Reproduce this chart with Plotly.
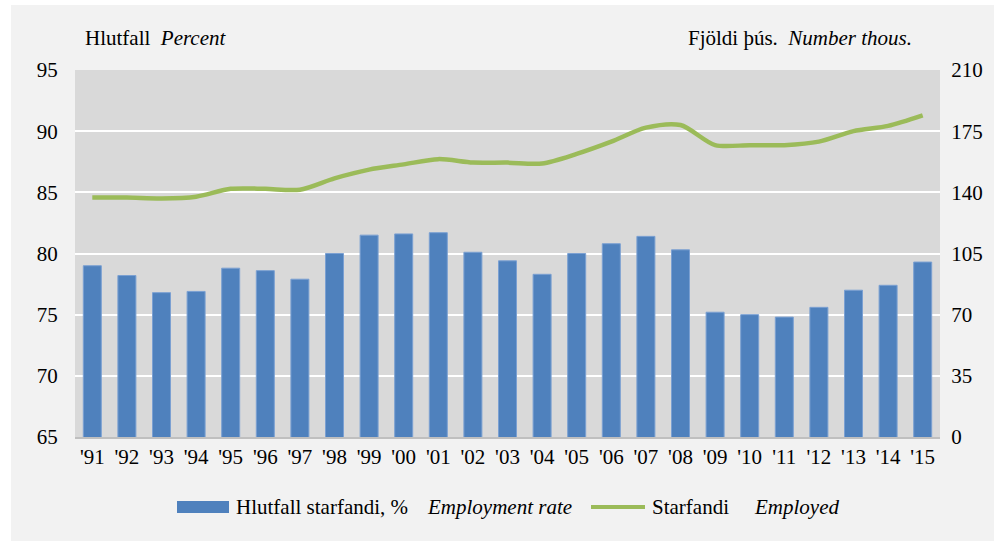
import plotly.graph_objects as go

years = ["'91", "'92", "'93", "'94", "'95", "'96", "'97", "'98", "'99", "'00", "'01", "'02", "'03",
         "'04", "'05", "'06", "'07", "'08", "'09", "'10", "'11", "'12", "'13", "'14", "'15"]
employment_rate = [79.0, 78.2, 76.8, 76.9, 78.8, 78.6, 77.9, 80.0, 81.5, 81.6, 81.7, 80.1, 79.4,
                   78.3, 80.0, 80.8, 81.4, 80.3, 75.2, 75.0, 74.8, 75.6, 77.0, 77.4, 79.3]
employed = [137, 137, 136.5, 137.5, 142, 142, 141.5, 148, 153, 156, 159, 157, 157,
            156.5, 162, 169, 177, 178.5, 167, 167, 167, 169, 175, 178, 184]

FONT = "Liberation Serif"
FS = 21
L, R, T, B = 75, 66, 70, 106
W, H = 1006, 543
PW, PH = W - L - R, H - T - B

def px(x):
    return (x - L) / PW

def py(y):
    return (H - B - y) / PH

fig = go.Figure()
fig.add_trace(go.Bar(
    x=years, y=employment_rate, name="Hlutfall starfandi, %",
    marker=dict(color="#4f81bd", line=dict(color="#7ba0d2", width=1)),
    showlegend=False, yaxis="y"))
fig.add_trace(go.Scatter(
    x=years, y=employed, name="Starfandi", mode="lines",
    line=dict(color="#9bbb59", width=4.5, shape="spline", smoothing=0.8),
    showlegend=False, yaxis="y2"))

shapes = []
# white outer margins
for (x0, x1, y0, y1) in [(0, 11, 0, H), (994, W, 0, H), (0, W, 0, 5), (0, W, 541, H)]:
    shapes.append(dict(type="rect", xref="paper", yref="paper", x0=px(x0), x1=px(x1),
                       y0=py(y1), y1=py(y0), fillcolor="white", line=dict(width=0), layer="above"))
# legend symbols
shapes.append(dict(type="rect", xref="paper", yref="paper", x0=px(177), x1=px(229),
                   y0=py(513), y1=py(501), fillcolor="#4f81bd", line=dict(width=0)))
shapes.append(dict(type="line", xref="paper", yref="paper", x0=px(591), x1=px(645),
                   y0=py(507), y1=py(507), line=dict(color="#9bbb59", width=4)))

annotations = [
    dict(text="Hlutfall\u00a0 <i>Percent</i>", x=px(83), y=py(38), xanchor="left", yanchor="middle"),
    dict(text="Fjöldi þús.\u00a0 <i>Number thous.</i>", x=px(914), y=py(38), xanchor="right", yanchor="middle"),
    dict(text="Hlutfall starfandi, %", x=px(234), y=py(507), xanchor="left", yanchor="middle"),
    dict(text="<i>Employment rate</i>", x=px(425), y=py(507), xanchor="left", yanchor="middle"),
    dict(text="Starfandi", x=px(650), y=py(507), xanchor="left", yanchor="middle"),
    dict(text="<i>Employed</i>", x=px(752), y=py(507), xanchor="left", yanchor="middle"),
]
for a in annotations:
    a.update(xref="paper", yref="paper", showarrow=False, font=dict(family=FONT, size=FS, color="#000"))

fig.update_layout(
    width=W, height=H,
    margin=dict(l=L, r=R, t=T, b=B, pad=0, autoexpand=False),
    paper_bgcolor="#f2f2f2", plot_bgcolor="#d9d9d9",
    font=dict(family=FONT, size=FS, color="#000"),
    bargap=0.48,
    showlegend=False,
    xaxis=dict(type="category", showgrid=False, showline=True, linecolor="#bfbfbf", linewidth=2,
               ticks="", zeroline=False, automargin=False),
    yaxis=dict(range=[65, 95], dtick=5, tick0=65, showgrid=True, gridcolor="white", gridwidth=2,
               zeroline=False, ticks="outside", ticklen=12, tickcolor="rgba(0,0,0,0)", automargin=False),
    yaxis2=dict(range=[0, 210], dtick=35, tick0=0, overlaying="y", side="right", showgrid=False,
                zeroline=False, ticks="outside", ticklen=6, tickcolor="rgba(0,0,0,0)", automargin=False),
    shapes=shapes, annotations=annotations,
)

fig.write_html("out.html", config={"displayModeBar": False},
               post_script="document.body.style.margin='0';document.body.style.overflow='hidden';")
